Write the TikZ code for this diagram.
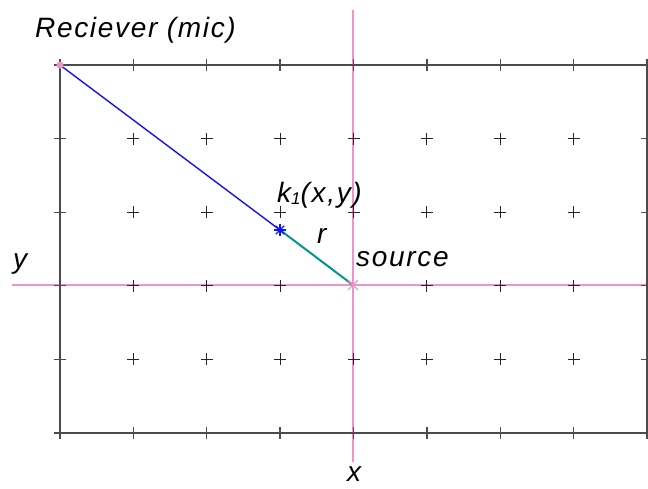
\documentclass[tikz,border=0pt]{standalone}
\usepackage{fontspec}
\setmainfont{Liberation Sans}
\newfontfamily\lblfont{Liberation Sans}[LetterSpace=6]
\definecolor{axpink}{RGB}{238,148,200}
\definecolor{rayblue}{RGB}{20,20,235}
\definecolor{rayteal}{RGB}{0,150,140}
\definecolor{gridgray}{RGB}{75,75,75}
\usetikzlibrary{positioning,calc}

\begin{document}
\begin{tikzpicture}[x=1pt,y=-1pt,
  lbl/.style={font=\lblfont\fontsize{28}{32}\selectfont\itshape, inner sep=0pt},
  frametick/.style={gridgray, line width=1.3pt},
  plusmark/.style={black!85, line width=1.2pt}]
  \useasboundingbox (0,0) rectangle (648,488);

  % Axes through the source
  \draw[axpink, line width=1.1pt] (12,285) -- (648,285);
  \draw[axpink, line width=1.1pt] (353,10) -- (353,462);

  % Frame
  \draw[gridgray, line width=1.4pt] (60,65) rectangle (647,433);
  \foreach \i in {0,...,8} {
    \draw[frametick] ({60+73.375*\i},59) -- ++(0,12);
    \draw[frametick] ({60+73.375*\i},427) -- ++(0,12);
  }
  \foreach \j in {0,...,5} {
    \draw[frametick] (54,{65+73.6*\j}) -- ++(12,0);
    \draw[frametick] (641,{65+73.6*\j}) -- ++(12,0);
  }

  % Grid crosses
  \foreach \i in {1,...,7} {
    \foreach \j in {1,...,4} {
      \ifnum\i\j=43 \else
        \draw[plusmark] ({60+73.375*\i-6},{65+73.6*\j}) -- ++(12,0);
        \draw[plusmark] ({60+73.375*\i},{65+73.6*\j-6}) -- ++(0,12);
      \fi
    }
  }

  % Points
  \coordinate (mic) at (60,65);
  \coordinate (k1) at (280,230);
  \coordinate (src) at (353,285);

  % Rays
  \draw[rayblue, line width=1.4pt] (mic) -- (k1);
  \draw[rayteal, line width=2pt] (k1) -- (src);

  % Markers
  \fill[axpink] (mic) circle (3.5);
  \draw[axpink, line width=1.1pt] ($(src)+(-5,-5)$) -- ($(src)+(5,5)$);
  \draw[axpink, line width=1.1pt] ($(src)+(-5,5)$) -- ($(src)+(5,-5)$);
  \foreach \a in {0,45,...,315}
    \draw[rayblue, line width=1.2pt] (k1) -- ++(\a:6);

  % Labels
  \node[lbl, anchor=base west] (miclbl) at (35,37) {Reciever (mic)};
  \node[lbl, anchor=base west] (ylbl) at (13,268) {y};
  \node[lbl, anchor=base west] (xlbl) at (347,481) {x};
  \node[lbl, anchor=base west] (klbl) at (277,202) {k\raisebox{-2pt}{\fontsize{17}{20}\selectfont 1}(x,y)};
  \node[lbl, anchor=base west] (rlbl) at (317,243) {r};
  \node[lbl, anchor=base west] (srclbl) at (356,266) {source};
\end{tikzpicture}
\end{document}
